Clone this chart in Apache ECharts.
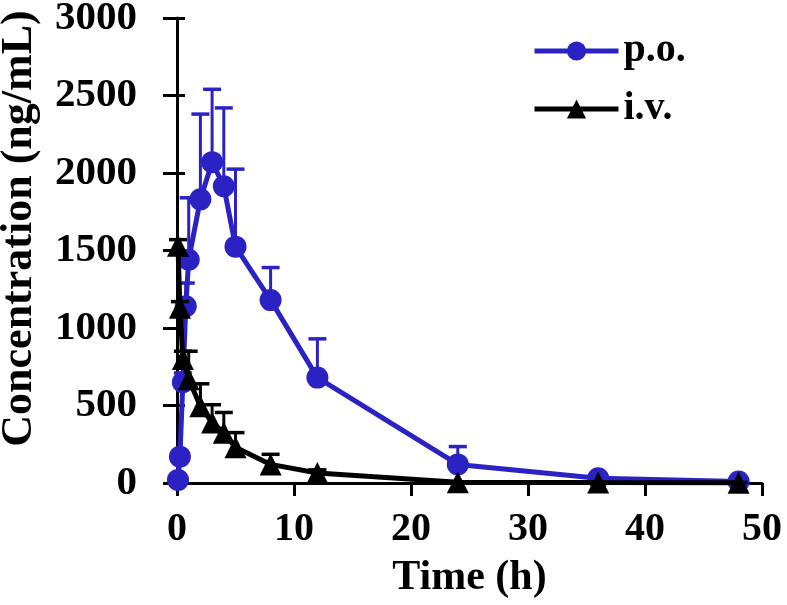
<!DOCTYPE html>
<html>
<head>
<meta charset="utf-8">
<script src="https://cdn.jsdelivr.net/npm/echarts@6/dist/echarts.min.js"></script>
<style>
html,body{margin:0;padding:0;background:#fff;}
#chart{width:787px;height:605px;}
</style>
</head>
<body>
<div id="chart"></div>
<script>
// ---- data ----
const poTime  = [0.083, 0.25, 0.5, 0.75, 1, 2, 3, 4, 5, 8, 12, 24, 36, 48];
const poConc  = [20, 170, 650, 1140, 1440, 1830, 2070, 1915, 1525, 1180, 680, 120, 30, 10];
const poErr   = [0, 20, 60, 150, 400, 550, 470, 505, 500, 210, 250, 115, 15, 5];
const ivTime  = [0.083, 0.25, 0.5, 1, 2, 3, 4, 5, 8, 12, 24, 36, 48];
const ivConc  = [1530, 1130, 800, 670, 495, 390, 325, 230, 120, 65, 5, 3, 2];
const ivErr   = [40, 40, 50, 180, 145, 115, 130, 95, 65, 20, 3, 2, 1];
const xTicks  = [0, 10, 20, 30, 40, 50];
const yTicks  = [0, 500, 1000, 1500, 2000, 2500, 3000];

const BLUE = '#2b22c4';
const BLACK = '#000000';
const FONT = '"Liberation Serif", "Times New Roman", serif';

function pts(t, v) { return t.map((x, i) => [x, v[i]]); }
function errPts(t, v, e) { return t.map((x, i) => [x, v[i], e[i]]); }

function errRender(color) {
  return function (params, api) {
    const x = api.value(0), y = api.value(1), e = api.value(2);
    if (!e) return null;
    const p = api.coord([x, y]);
    const q = api.coord([x, y + e]);
    const w = 9;
    return {
      type: 'group',
      children: [
        { type: 'line', shape: { x1: p[0], y1: p[1], x2: q[0], y2: q[1] },
          style: { stroke: color, lineWidth: 3 } },
        { type: 'line', shape: { x1: q[0] - w, y1: q[1], x2: q[0] + w, y2: q[1] },
          style: { stroke: color, lineWidth: 3.5 } }
      ]
    };
  };
}

const chart = echarts.init(document.getElementById('chart'), null, { renderer: 'canvas' });
chart.setOption({
  animation: false,
  backgroundColor: '#fff',
  textStyle: { fontFamily: FONT },
  grid: { left: 177, right: 25, top: 18, bottom: 122, containLabel: false, outerBoundsMode: 'none' },
  legend: {
    data: ['p.o.', 'i.v.'],
    orient: 'vertical',
    left: 527,
    top: 26,
    itemWidth: 84,
    itemHeight: 24,
    itemGap: 18,
    lineStyle: { width: 5 },
    textStyle: { fontFamily: FONT, fontWeight: 'bold', fontSize: 40, color: '#000' }
  },
  xAxis: {
    type: 'value',
    min: xTicks[0],
    max: xTicks[xTicks.length - 1],
    interval: 10,
    name: 'Time (h)',
    nameLocation: 'middle',
    nameGap: 74,
    nameTextStyle: { fontFamily: FONT, fontWeight: 'bold', fontSize: 42, color: '#000' },
    axisLine: { show: true, onZero: false, lineStyle: { color: '#000', width: 3 } },
    axisTick: { show: true, inside: false, length: 13, lineStyle: { color: '#000', width: 3 } },
    axisLabel: { margin: 27, fontFamily: FONT, fontWeight: 'bold', fontSize: 40, color: '#000' },
    splitLine: { show: false }
  },
  yAxis: [{
    type: 'value',
    min: yTicks[0],
    max: yTicks[yTicks.length - 1],
    interval: 500,
    name: 'Concentration (ng/mL)',
    nameLocation: 'middle',
    nameGap: 135,
    nameTextStyle: { fontFamily: FONT, fontWeight: 'bold', fontSize: 44, color: '#000', padding: [0, 0, 0, 44] },
    axisLine: { show: true, onZero: false, lineStyle: { color: '#000', width: 3 } },
    axisTick: { show: true, inside: false, length: 14, lineStyle: { color: '#000', width: 3 } },
    axisLabel: { margin: 40, fontFamily: FONT, fontWeight: 'bold', fontSize: 41, color: '#000',
      formatter: function (v) { return String(v); } },
    splitLine: { show: false }
  }, {
    type: 'value',
    position: 'left',
    offset: 0,
    min: yTicks[0],
    max: yTicks[yTicks.length - 1],
    interval: 500,
    axisLine: { show: false },
    axisTick: { show: true, inside: true, length: 8, lineStyle: { color: '#000', width: 3 } },
    axisLabel: { show: false },
    splitLine: { show: false }
  }],
  series: [
    {
      name: 'po_err', type: 'custom', renderItem: errRender(BLUE),
      data: errPts(poTime, poConc, poErr), encode: { x: 0, y: 1 }, z: 2, clip: false, silent: true
    },
    {
      name: 'p.o.', type: 'line', data: pts(poTime, poConc),
      symbol: 'circle', symbolSize: 22, clip: false, z: 3,
      lineStyle: { color: BLUE, width: 5 },
      itemStyle: { color: BLUE }
    },
    {
      name: 'iv_err', type: 'custom', renderItem: errRender(BLACK),
      data: errPts(ivTime, ivConc, ivErr), encode: { x: 0, y: 1 }, z: 4, clip: false, silent: true
    },
    {
      name: 'i.v.', type: 'line', data: pts(ivTime, ivConc),
      symbol: 'triangle', symbolSize: 22, clip: false, z: 5,
      lineStyle: { color: BLACK, width: 5 },
      itemStyle: { color: BLACK }
    }
  ]
});
</script>
</body>
</html>
